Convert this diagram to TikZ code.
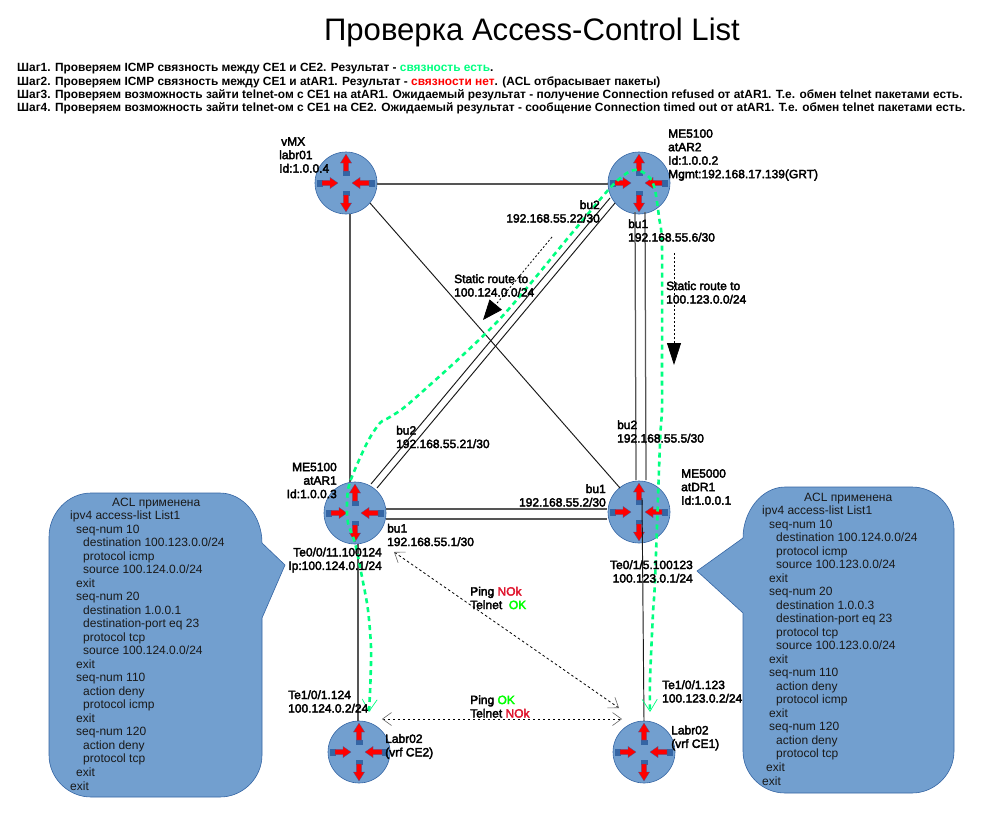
\documentclass[tikz,border=0pt]{standalone}
\usepackage{fontspec}
\setmainfont{Liberation Sans}
\newfontfamily\lblfont[FakeBold=3]{Liberation Sans}
\newfontfamily\stepfont{Liberation Sans Bold}
\usetikzlibrary{arrows.meta,calc}
\definecolor{rfill}{HTML}{729FCF}
\definecolor{rline}{HTML}{3465A4}
\definecolor{pathgreen}{HTML}{00FF80}
\definecolor{nokred}{HTML}{E0142D}
\definecolor{lgray}{HTML}{555555}
\tikzset{
  x=1pt,y=-1pt,
  router/.style={circle,draw=rline,fill=rfill,line width=0.6pt,minimum size=62pt,inner sep=0pt},
  lbl/.style={font=\lblfont\fontsize{12}{13.5}\selectfont,inner sep=0pt,text=black},
  lleft/.style={lbl,anchor=west,align=left},
  lright/.style={lbl,anchor=east,align=right},
  stepline/.style={font=\stepfont\fontsize{11.9}{13}\selectfont,inner sep=0pt,anchor=base west},
  acl/.style={font=\fontsize{12}{13.52}\selectfont,inner sep=0pt,anchor=north west,align=left,text=black!90},
  bubble/.style={fill=rfill,draw=rline,line width=0.6pt},
  graylink/.style={draw=lgray,line width=1.25pt},
  blacklink/.style={draw=black!90,line width=0.95pt},
  greenpath/.style={draw=pathgreen,line width=2.6pt,dash pattern=on 5pt off 4pt,
    {Straight Barb[length=12pt,width=15pt,line width=0.7pt,color=pathgreen]}-{Straight Barb[length=12pt,width=15pt,line width=0.7pt,color=pathgreen]}},
  staticroute/.style={draw=black,line width=0.8pt,dash pattern=on 2pt off 2pt},
  testlink/.style={draw=black,line width=0.8pt,dash pattern=on 2.5pt off 2.5pt,
    {Straight Barb[length=9pt,width=13pt,line width=0.6pt,color=black!60]}-{Straight Barb[length=9pt,width=13pt,line width=0.6pt,color=black!60]}},
}
\newcommand{\rarrow}[6]{%
  \begin{scope}[shift={(#1)},rotate=#2,x=1pt,y=1pt]
    \fill[rline,draw=rline,line width=0.3pt] (#5,-3) rectangle (#6,3);
    \fill[red,draw=rline,line width=0.25pt] (#3,0) -- (#4,5.6) -- (#4,2.6) -- (#5,2.6) -- (#5,-2.6) -- (#4,-2.6) -- (#4,-5.6) -- cycle;
  \end{scope}}
\newcommand{\routericon}[1]{%
  \rarrow{#1}{90}{29}{20}{12}{8}%
  \rarrow{#1}{270}{29}{20}{12}{8}%
  \rarrow{#1}{180}{8}{16}{24}{29}%
  \rarrow{#1}{0}{6}{14}{23}{28}}
\begin{document}
\begin{tikzpicture}
\useasboundingbox (0,0) rectangle (1006,822);
\fill[white] (0,0) rectangle (1006,822);

% Title and steps
\node[font=\fontsize{31.1}{34}\selectfont,inner sep=0pt,anchor=base] (title) at (532,40) {Проверка Access-Control List};
\node[stepline] (s1) at (17,71.5) {Шаг1. Проверяем ICMP связность между CE1 и CE2. Результат - \textcolor{pathgreen}{связность есть}.};
\node[stepline] (s2) at (17,85.5) {Шаг2. Проверяем ICMP связность между CE1 и atAR1. Результат - \textcolor{red}{связности нет}. (ACL отбрасывает пакеты)};
\node[stepline] (s3) at (17,98) {Шаг3. Проверяем возможность зайти telnet-ом с CE1 на atAR1. Ожидаемый результат - получение Connection refused от atAR1. Т.е. обмен telnet пакетами есть.};
\node[stepline] (s4) at (17,111) {Шаг4. Проверяем возможность зайти telnet-ом с CE1 на CE2. Ожидаемый результат - сообщение Connection timed out от atAR1. Т.е. обмен telnet пакетами есть.};

% Callouts
\draw[bubble] (91,493) -- (220,493) .. controls (243,493) and (262,516) .. (262,543) -- (285,565) -- (262,618) -- (262,755) .. controls (262,778) and (243,797) .. (220,797) -- (91,797) .. controls (68,797) and (49,778) .. (49,755) -- (49,537) .. controls (49,513) and (68,493) .. (91,493) -- cycle;
\draw[bubble] (785,487) -- (912,487) .. controls (935,487) and (954,506) .. (954,529) -- (954,751) .. controls (954,774) and (935,793) .. (912,793) -- (785,793) .. controls (762,793) and (743,774) .. (743,751) -- (743,613) -- (697,571) -- (743,538) .. controls (743,511) and (762,487) .. (785,487) -- cycle;
\node[acl] (aclL) at (70,497.5) {\hspace*{42pt}ACL применена\\ipv4 access-list List1\\
\hspace*{6pt}seq-num 10\\\hspace*{13pt}destination 100.123.0.0/24\\\hspace*{13pt}protocol icmp\\\hspace*{13pt}source 100.124.0.0/24\\\hspace*{6pt}exit\\
\hspace*{6pt}seq-num 20\\\hspace*{13pt}destination 1.0.0.1\\\hspace*{13pt}destination-port eq 23\\\hspace*{13pt}protocol tcp\\\hspace*{13pt}source 100.124.0.0/24\\\hspace*{6pt}exit\\
\hspace*{6pt}seq-num 110\\\hspace*{13pt}action deny\\\hspace*{13pt}protocol icmp\\\hspace*{6pt}exit\\
\hspace*{6pt}seq-num 120\\\hspace*{13pt}action deny\\\hspace*{13pt}protocol tcp\\\hspace*{6pt}exit\\exit};
\node[acl] (aclR) at (762,492.5) {\hspace*{42pt}ACL применена\\ipv4 access-list List1\\
\hspace*{7pt}seq-num 10\\\hspace*{14pt}destination 100.124.0.0/24\\\hspace*{14pt}protocol icmp\\\hspace*{14pt}source 100.123.0.0/24\\\hspace*{7pt}exit\\
\hspace*{7pt}seq-num 20\\\hspace*{14pt}destination 1.0.0.3\\\hspace*{14pt}destination-port eq 23\\\hspace*{14pt}protocol tcp\\\hspace*{14pt}source 100.123.0.0/24\\\hspace*{7pt}exit\\
\hspace*{7pt}seq-num 110\\\hspace*{14pt}action deny\\\hspace*{14pt}protocol icmp\\\hspace*{7pt}exit\\
\hspace*{7pt}seq-num 120\\\hspace*{14pt}action deny\\\hspace*{14pt}protocol tcp\\\hspace*{4pt}exit\\exit};

% Routers
\node[router] (vmx) at (346,183) {};
\node[router] (ar2) at (639,183) {};
\node[router] (ar1) at (355,513) {};
\node[router] (dr1) at (639,512) {};
\node[router] (ce2) at (359,752) {};
\node[router] (ce1) at (644,752) {};
\routericon{vmx}\routericon{ar2}\routericon{ar1}\routericon{dr1}\routericon{ce2}\routericon{ce1}

% Links
\draw[graylink] ($(vmx)+(31,1)$) -- ($(ar2)+(-31,1)$);
\draw[graylink] ($(vmx)+(4,31)$) -- ($(ar1)+(-5,-31)$);
\draw[blacklink] ($(vmx)+(24,20)$) -- ($(dr1)+(-19,-24)$);
\draw[blacklink] ($(ar2)+(-29,15)$) -- ($(ar1)+(16,-29)$);
\draw[blacklink] ($(ar2)+(-24,20)$) -- ($(ar1)+(22,-25)$);
\draw[graylink] ($(ar2)+(-4,29)$) -- ($(dr1)+(-3,-32)$);
\draw[graylink] ($(ar2)+(6,29)$) -- ($(dr1)+(7,-32)$);
\draw[graylink] ($(ar1)+(31,-4)$) -- ($(dr1)+(-32,-3)$);
\draw[graylink] ($(ar1)+(31,6)$) -- ($(dr1)+(-32,7)$);
\draw[graylink] ($(ar1)+(3,31)$) -- ($(ce2)+(-1,-31)$);
\draw[blacklink] ($(dr1)+(3,-14)$) -- ($(ce1)+(0,-31)$);

% Static routes
\coordinate (sr1) at ($(ar2)+(-87,54)$);
\coordinate (sr1e) at ($(ar1)+(128,-193)$);
\draw[staticroute,-{Triangle[length=20pt,width=16pt,color=black]}] (sr1) -- (sr1e);
\coordinate (sr2) at ($(ar2)+(35,70)$);
\coordinate (sr2e) at ($(dr1)+(35,-147)$);
\draw[staticroute,-{Triangle[length=22pt,width=14pt,color=black]}] (sr2) -- (sr2e);

% Test links
\draw[testlink] ($(ar1)+(39,39)$) -- ($(ce1)+(-25,-44)$);
\draw[testlink] ($(ce2)+(23,-33)$) -- ($(ce1)+(-22,-33)$);

% Green path
\coordinate (gce2) at ($(ce2)+(10,-40)$);
\coordinate (gce1) at ($(ce1)+(6,-40)$);
\draw[greenpath] plot[smooth,tension=0.5] coordinates {(gce2) (370.5,680) (371,647) (368,610) (363,582) (355,543) (348,523) (347,503) (350,482) (367,443) (380,423) (390,417) (413,400) (497,322) (572,233) (610,188) (627,173) (638,170) (650,178) (655,190) (659,217) (662,247) (662,373) (662,410) (660,443) (655,580) (653,613) (650,680) (gce1)};

% Labels
\node[lleft] (lvmx) at (279,155) {\,vMX\\labr01\\Id:1.0.0.4};
\node[lleft] (lar2) at (668,155) {ME5100\\atAR2\\Id:1.0.0.2\\Mgmt:192.168.17.139(GRT)};
\node[lright] (lbu2a) at (600,211.5) {bu2\\192.168.55.22/30};
\node[lleft] (lbu1a) at (628,230.5) {bu1\\192.168.55.6/30};
\node[lleft] (lsr1) at (454,285.5) {Static route to\\100.124.0.0/24};
\node[lleft] (lsr2) at (666,292.5) {Static route to\\100.123.0.0/24};
\node[lleft] (lbu2b) at (396,437) {bu2\\192.168.55.21/30};
\node[lright] (lar1) at (337,480.5) {ME5100\\atAR1\\Id:1.0.0.3};
\node[lleft] (lbu1b) at (387,535) {bu1\\192.168.55.1/30};
\node[lright] (lte1) at (382,560) {Te0/0/11.100124\\Ip:100.124.0.1/24};
\node[lleft] (lbu2c) at (617,431.5) {bu2\\192.168.55.5/30};
\node[lright] (lbu1c) at (606,495.5) {bu1\\192.168.55.2/30};
\node[lleft] (ldr1) at (681,487) {ME5000\\atDR1\\Id:1.0.0.1};
\node[lright] (lte2) at (693,571.5) {Te0/1/5.100123\\100.123.0.1/24};
\node[lleft] (lte3) at (288,701.5) {Te1/0/1.124\\100.124.0.2/24};
\node[lleft] (lce2) at (385,746.5) {Labr02\\(vrf CE2)};
\node[lleft] (lte4) at (662,691.5) {Te1/0/1.123\\100.123.0.2/24};
\node[lleft] (lce1) at (671,738) {Labr02\\(vrf CE1)};
\node[lleft] (lp1) at (470,598) {Ping \textcolor{nokred}{NOk}\\Telnet \ \textcolor{green}{OK}};
\node[lleft] (lp2) at (470,706.5) {Ping \textcolor{green}{OK}\\Telnet \textcolor{nokred}{NOk}};
\end{tikzpicture}
\end{document}
